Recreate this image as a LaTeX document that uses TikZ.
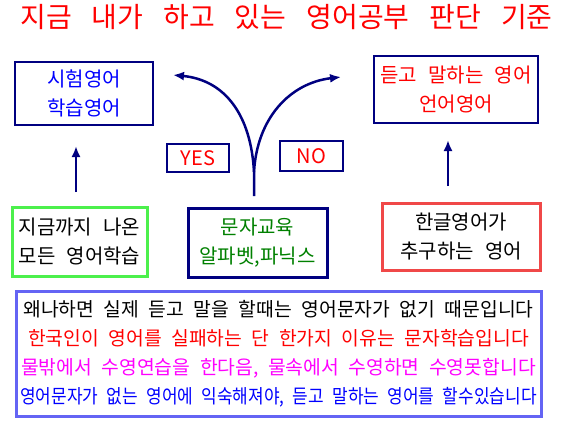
\documentclass[tikz,border=0pt]{standalone}
\usepackage{fontspec}
\setmainfont{Noto Sans CJK KR}[WordSpace=2.5]
\newfontfamily\flowfont{Noto Sans CJK KR}[WordSpace=2.2]
\newfontfamily\condfont{Noto Sans CJK KR}[WordSpace=2.2,FakeStretch=0.88]
\newcommand\titlestyle{\fontsize{28}{28}\selectfont\spaceskip=20pt\relax}
\usetikzlibrary{arrows.meta, positioning}
\definecolor{KorNavy}{HTML}{000080}
\definecolor{KorBlue}{HTML}{0000FF}
\definecolor{KorRed}{HTML}{FF0000}
\definecolor{KorGreen}{HTML}{008000}
\definecolor{KorLime}{HTML}{4CF04C}
\definecolor{KorCoral}{HTML}{F04848}
\definecolor{KorPeri}{HTML}{6464F4}
\definecolor{KorMagenta}{HTML}{FF00FF}
\tikzset{
    % Box styles
    thinbox/.style={
        rectangle,
        draw=KorNavy,
        line width=1.5pt,
        inner sep=0pt,
        align=center,
        font=\fontsize{20}{29}\selectfont
    },
    thickbox/.style={
        rectangle,
        line width=3pt,
        inner sep=0pt,
        align=center,
        font=\fontsize{20}{29}\selectfont
    },
    answerbox/.style={
        rectangle,
        draw=KorNavy,
        line width=1.3pt,
        inner sep=0pt,
        text=KorRed,
        font=\fontsize{20}{20}\selectfont
    },
    % Arrow style
    myarrow/.style={
        -{Latex[length=11pt,width=9pt]},
        line width=2.5pt,
        KorNavy
    }
}
\begin{document}
\begin{tikzpicture}[x=1pt,y=-1pt]
    \useasboundingbox (0,0) rectangle (565,423);

    \node[font=\titlestyle, text=KorRed] (title) at (286.5,17) {지금 내가 하고 있는 영어공부 판단 기준};

    % Outcome boxes
    \node[thinbox, text=KorBlue, minimum width=138pt, minimum height=63pt] (exam) at (84,93.5) {시험영어\\학습영어};
    \node[thinbox, text=KorRed, minimum width=164pt, minimum height=67pt] (speak) at (456,89.5) {듣고 말하는 영어\\언어영어};

    \node[answerbox, minimum width=62pt, minimum height=28pt] (yes) at (198,158) {YES};
    \node[answerbox, minimum width=63pt, minimum height=30pt] (no) at (311.5,156) {NO};

    % Source boxes
    \node[thickbox, draw=KorLime, minimum width=135pt, minimum height=69pt] (sofar) at (79.5,241.5) {지금까지 나온\\모든 영어학습};
    \node[thickbox, draw=KorNavy, text=KorGreen, minimum width=139pt, minimum height=69pt] (letters) at (257.5,242.5) {문자교육\\알파벳,파닉스};
    \node[thickbox, draw=KorCoral, minimum width=158pt, minimum height=67pt] (hangul) at (461,236.5) {한글영어가\\추구하는 영어};

    \node[thickbox, draw=KorPeri, minimum width=525pt, minimum height=125pt,
          font=\flowfont\fontsize{19.3}{29}\selectfont] (reason) at (278.5,353.5) {%
        왜나하면 실제 듣고 말을 할때는 영어문자가 없기 때문입니다\\
        \textcolor{KorRed}{한국인이 영어를 실패하는 단 한가지 이유는 문자학습입니다}\\
        \textcolor{KorMagenta}{물밖에서 수영연습을 한다음, 물속에서 수영하면 수영못합니다}\\
        {\condfont\color{KorBlue}영어문자가 없는 영어에 익숙해져야, 듣고 말하는 영어를 할수있습니다}};

    % Arrows
    \coordinate (fork) at (254,196);
    \coordinate (cusp) at (254,172);
    \coordinate (yestip) at (173,75);
    \coordinate (notip) at (341,77);
    \draw[myarrow] (fork) -- (cusp) .. controls (251,115) and (225,80) .. (yestip);
    \draw[myarrow] (cusp) .. controls (257,118) and (290,83) .. (notip);

    \coordinate (leftfoot) at (76,192);
    \coordinate (lefthead) at (76,146);
    \coordinate (rightfoot) at (448,186);
    \coordinate (righthead) at (448,140);
    \draw[myarrow] (leftfoot) -- (lefthead);
    \draw[myarrow] (rightfoot) -- (righthead);
\end{tikzpicture}
\end{document}
